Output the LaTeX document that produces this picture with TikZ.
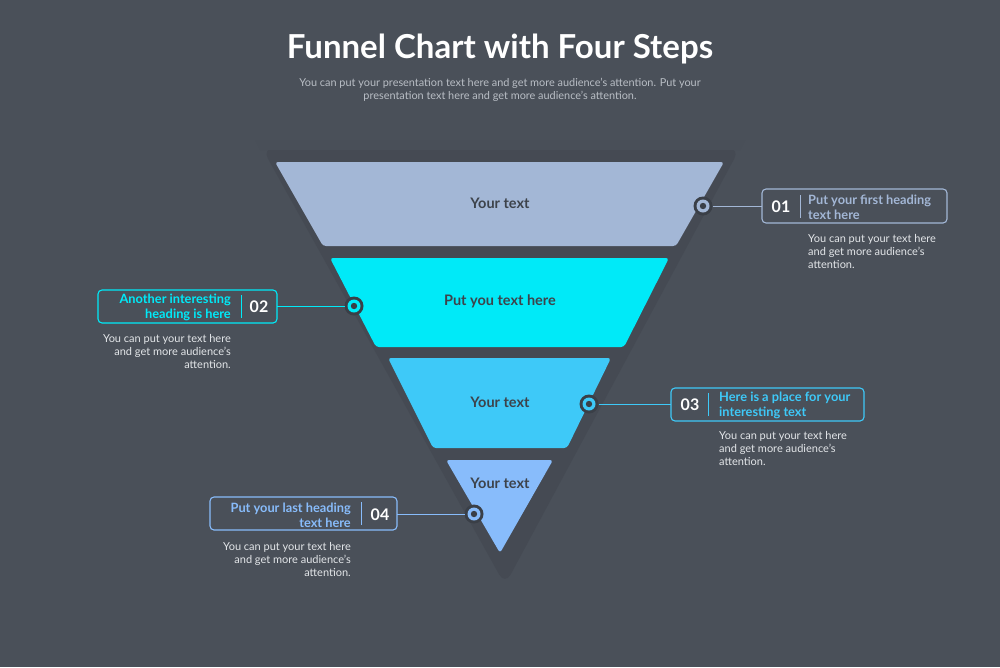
\documentclass[tikz,border=0pt]{standalone}
\usepackage{fontspec}
\setmainfont{Lato}
\usetikzlibrary{calc}
\definecolor{bg}{HTML}{4A5059}
\definecolor{shd}{HTML}{454A53}
\definecolor{dk}{HTML}{3A3F47}
\definecolor{cA}{HTML}{A3B7D6}
\definecolor{cB}{HTML}{00EAF8}
\definecolor{cC}{HTML}{3EC9F8}
\definecolor{cD}{HTML}{88BCFB}
\definecolor{txt}{HTML}{3D434B}
\definecolor{desc}{HTML}{E3E6E9}
\definecolor{sub}{HTML}{B9BEC5}
\begin{document}
\begin{tikzpicture}[x=1pt,y=-1pt,
  seglabel/.style={font=\fontsize{14.5}{16}\selectfont\bfseries,text=txt},
  cbox/.style={draw=#1,line width=1.1pt,rounded corners=4pt},
  num/.style={font=\fontsize{16}{17}\selectfont\bfseries,text=white},
  head/.style={font=\fontsize{12.8}{15}\selectfont\bfseries,text=#1,inner sep=0},
  dsc/.style={font=\fontsize{11}{13}\selectfont,text=desc,inner sep=0},
  conn/.style={draw=#1,line width=0.9pt}]
\fill[bg] (0,0) rectangle (1000,667);
\useasboundingbox (0,0) rectangle (1000,667);
% shadow
\fill[shd,rounded corners=12pt] (262,148) -- (740,148) -- (505,585) -- cycle;
\fill[bg!85!shd] (255,140) -- (745,140) -- (740,150) -- (260,150) -- cycle;
% title
\node[font=\fontsize{33}{35}\selectfont\bfseries,text=white] (title) at (500,49) {Funnel Chart with Four Steps};
\node[font=\fontsize{10.9}{13}\selectfont,text=sub,align=center] (subt) at (500,90) {You can put your presentation text here and get more audience's attention. Put your\\presentation text here and get more audience's attention.};
% segments
\fill[cA,rounded corners=3pt] (275,162) -- (724,162) -- (676,246) -- (323,246) -- cycle;
\fill[cB,rounded corners=3pt] (330,258) -- (669,258) -- (624,347) -- (376,347) -- cycle;
\fill[cC,rounded corners=3pt] (388,358) -- (611,358) -- (567,448) -- (433,448) -- cycle;
\fill[cD,rounded corners=3pt] (446,460) -- (553,460) -- (500,553) -- cycle;
\node[seglabel] (s1) at (500,203) {Your text};
\node[seglabel] (s2) at (500,301) {Put you text here};
\node[seglabel] (s3) at (500,402) {Your text};
\node[seglabel] (s4) at (500,483) {Your text};
% circles
\foreach \n/\x/\y/\c in {1/703/206/cA,2/354/306/cB,3/589/404/cC,4/474/514/cD}{
  \fill[dk] (\x,\y) circle (9.5);
  \fill[\c] (\x,\y) circle (6.5);
  \fill[dk] (\x,\y) circle (3.2);
  \coordinate (p\n) at (\x,\y);
}
% box 1
\draw[cbox=cA] (762,189) rectangle (947,223);
\coordinate (b1) at (762,206);
\draw[conn=cA] ($(p1)+(9.5,0)$) -- (b1);
\node[num] (n1) at (781,207) {01};
\draw[cA,line width=0.8pt] (800,195) -- (800,218);
\node[head=cA,anchor=west,align=left] (h1) at (808,207) {Put your first heading\\text here};
\node[dsc,anchor=north west,align=left] (d1) at (808,234) {You can put your text here\\and get more audience's\\attention.};
% box 2
\draw[cbox=cB] (98,290) rectangle (277,323);
\coordinate (b2) at (277,306);
\draw[conn=cB] (b2) -- ($(p2)+(-9.5,0)$);
\node[num] (n2) at (259,307) {02};
\draw[cB,line width=0.8pt] (241,295) -- (241,318);
\node[head=cB,anchor=east,align=right] (h2) at (231,307) {Another interesting\\heading is here};
\node[dsc,anchor=north east,align=right] (d2) at (231,334) {You can put your text here\\and get more audience's\\attention.};
% box 3
\draw[cbox=cC] (671,388) rectangle (864,421);
\coordinate (b3) at (671,404);
\draw[conn=cC] ($(p3)+(9.5,0)$) -- (b3);
\node[num] (n3) at (690,405) {03};
\draw[cC,line width=0.8pt] (708,393) -- (708,416);
\node[head=cC,anchor=west,align=left] (h3) at (719,405) {Here is a place for your\\interesting text};
\node[dsc,anchor=north west,align=left] (d3) at (719,431) {You can put your text here\\and get more audience's\\attention.};
% box 4
\draw[cbox=cD] (210,497) rectangle (397,530);
\coordinate (b4) at (397,514);
\draw[conn=cD] (b4) -- ($(p4)+(-9.5,0)$);
\node[num] (n4) at (380,515) {04};
\draw[cD,line width=0.8pt] (361,502) -- (361,525);
\node[head=cD,anchor=east,align=right] (h4) at (351,515) {Put your last heading\\text here};
\node[dsc,anchor=north east,align=right] (d4) at (351,542) {You can put your text here\\and get more audience's\\attention.};
\end{tikzpicture}
\end{document}
